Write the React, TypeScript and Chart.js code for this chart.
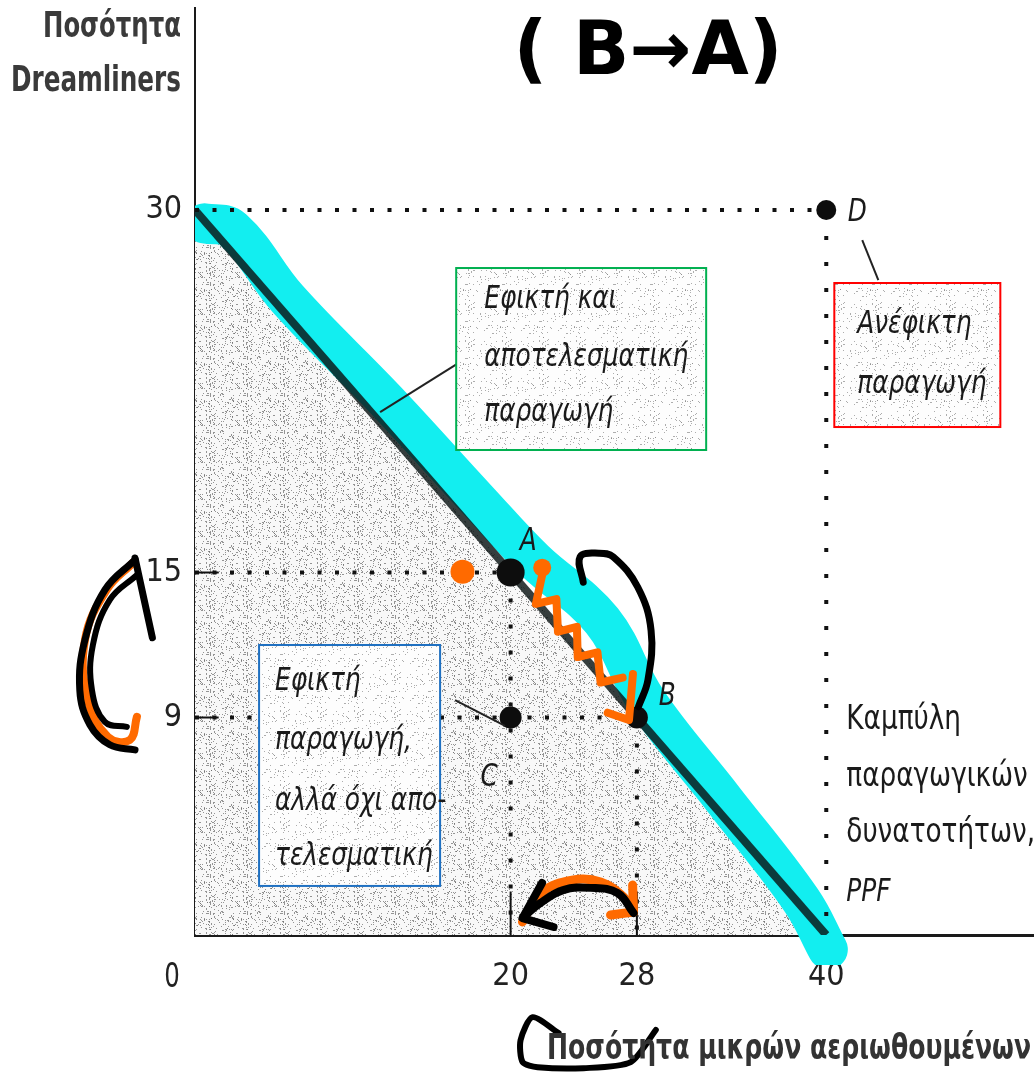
import React, { useEffect, useRef } from 'react';
import { Chart, registerables } from 'chart.js';

Chart.register(...registerables);

// ---------- data ----------
const ppfX = [0, 40];
const ppfY = [30, 0];

const pointNames = ['A', 'B', 'C', 'D'];
const pointX = [20, 28, 20, 40];
const pointY = [15, 9, 9, 30];
const pointSizes = [14, 11, 11, 10];

const xTickValues = [20, 28, 40];
const yTickValues = [9, 15, 30];

const xTitle = 'Ποσότητα μικρών αεριωθουμένων';
const yTitleLines = ['Ποσότητα', 'Dreamliners'];

// hand-drawn cyan highlighter along the PPF
const cyanX = [0.6, 2.4, 5.9, 12.06, 17.9, 21.5, 25.8, 28.6, 33.5, 38.4, 40.1];
const cyanY = [29.45, 29.2, 26.3, 22.15, 18.0, 15.5, 13.0, 9.7, 5.6, 1.45, -0.6];

// hand-drawn orange marks
const orangeDotX = [16.95, 22.0];
const orangeDotY = [15.03, 15.2];
const orangeZigX = [22.0, 21.6, 22.9, 23.0, 24.2, 24.25, 25.5, 25.7, 27.1];
const orangeZigY = [14.9, 13.7, 13.9, 12.55, 12.75, 11.5, 11.7, 10.45, 10.65];
const orangeArrowX = [27.75, 27.5, 26.15];
const orangeArrowY = [10.8, 8.9, 9.2];
const orangeLeftX = [-3.94, -5.59, -6.97, -6.79, -5.52, -4.13, -3.68];
const orangeLeftY = [15.4, 14.29, 12.22, 9.73, 8.2, 8.07, 9.03];
const orangeBottomX = [20.75, 21.9, 23.99, 25.7, 27.16, 27.79];
const orangeBottomY = [0.54, 1.74, 2.28, 2.19, 1.57, 0.95];
const orangeBottomHookX = [27.73, 27.79, 26.33];
const orangeBottomHookY = [2.07, 0.95, 0.83];

// hand-drawn black marks
const blackArcX = [24.6, 24.4, 25.6, 26.5, 28.05, 28.9, 28.7, 28.1];
const blackArcY = [14.6, 15.65, 15.8, 15.65, 14.4, 12.6, 10.55, 9.45];
const blackLeftHeadX = [-7.3, -3.8, -2.7];
const blackLeftHeadY = [14.5, 15.6, 12.3];
const blackLeftC1X = [-3.8, -5.7, -6.97, -7.3, -6.66, -5.4, -3.8];
const blackLeftC1Y = [15.53, 14.29, 12.22, 10.14, 8.7, 7.87, 7.66];
const blackLeftC2X = [-3.68, -5.4, -6.47, -6.53, -5.71, -4.32];
const blackLeftC2Y = [14.9, 13.87, 12.0, 10.14, 8.82, 8.61];
const blackBottomX = [27.79, 26.77, 25.05, 23.33, 21.87, 20.81];
const blackBottomY = [0.91, 1.74, 1.95, 1.86, 1.32, 0.75];
const blackBottomHeadX = [21.99, 20.75, 22.72];
const blackBottomHeadY = [2.15, 0.7, 0.33];
const blackTitleX = [23.04, 21.39, 20.63, 20.76, 21.71, 24.63, 27.61, 29.2];
const blackTitleY = [-4.06, -3.4, -4.35, -5.26, -5.47, -5.51, -5.26, -3.93];

// ---------- helpers ----------
const SANS = '"DejaVu Sans Condensed", "DejaVu Sans", sans-serif';
const pts = (xs: number[], ys: number[]) => xs.map((x, i) => ({ x, y: ys[i] }));

// paper-grain texture tile (deterministic scatter, purely decorative)
function makeStipple(bg: string, dot: string, count: number): CanvasPattern | string {
  const size = 37;
  const c = document.createElement('canvas');
  c.width = size;
  c.height = size;
  const g = c.getContext('2d');
  if (!g) return bg;
  g.fillStyle = bg;
  g.fillRect(0, 0, size, size);
  g.fillStyle = dot;
  let s = 12345;
  const next = () => {
    s = (s * 1103515245 + 12345) % 2147483648;
    return s / 2147483648;
  };
  for (let i = 0; i < count; i++) {
    const px = Math.floor(next() * size);
    const py = Math.floor(next() * size);
    g.fillRect(px, py, 1, 1);
  }
  const p = g.createPattern(c, 'repeat');
  return p || bg;
}

function stroke(xs: number[], ys: number[], color: string, width: number, tension: number, order: number) {
  return {
    data: pts(xs, ys),
    showLine: true,
    borderColor: color,
    borderWidth: width,
    pointRadius: 0,
    tension,
    fill: false,
    clip: false as any,
    borderCapStyle: 'round',
    borderJoinStyle: 'round',
    order,
  };
}

export default function App() {
  const ref = useRef<HTMLCanvasElement | null>(null);

  useEffect(() => {
    if (!ref.current) return;
    const areaPattern = makeStipple('#f8f8f8', 'rgba(105,105,105,0.7)', 190);
    const boxPattern = makeStipple('#fdfdfd', 'rgba(130,130,130,0.65)', 80);

    const iA = 0, iB = 1, iD = 3;
    const dotted = (xs: number[], ys: number[], dash: number[]) => ({
      data: pts(xs, ys),
      showLine: true,
      borderColor: '#111',
      borderWidth: 4,
      borderDash: dash,
      pointRadius: 0,
      fill: false,
      order: 8,
    });
    const solid = (xs: number[], ys: number[]) => ({
      data: pts(xs, ys),
      showLine: true,
      borderColor: '#111',
      borderWidth: 2,
      pointRadius: 0,
      fill: false,
      order: 8,
    });

    // draws text squeezed horizontally (the original uses a condensed face)
    const drawText = (
      ctx: any, s: string, px: number, py: number, font: string,
      opts: { align?: string; sx?: number; width?: number; color?: string } = {}
    ) => {
      ctx.save();
      ctx.font = font;
      ctx.textBaseline = 'middle';
      ctx.fillStyle = opts.color || '#1a1a1a';
      const w = ctx.measureText(s).width;
      const sx = opts.width ? opts.width / w : opts.sx || 1;
      const align = opts.align || 'left';
      const drawnW = w * sx;
      let left = px;
      if (align === 'right') left = px - drawnW;
      if (align === 'center') left = px - drawnW / 2;
      ctx.translate(left, py);
      ctx.scale(sx, 1);
      ctx.textAlign = 'left';
      ctx.fillText(s, 0, 0);
      ctx.restore();
    };

    const annotations = {
      id: 'annotations',
      afterDatasetsDraw(chart: any) {
        const { ctx } = chart;
        const xs = chart.scales.x;
        const ys = chart.scales.y;
        const X = (v: number) => xs.getPixelForValue(v);
        const Y = (v: number) => ys.getPixelForValue(v);
        ctx.save();

        // leader lines
        ctx.strokeStyle = '#222';
        ctx.lineWidth = 2;
        const leader = (x1: number, y1: number, x2: number, y2: number) => {
          ctx.beginPath();
          ctx.moveTo(X(x1), Y(y1));
          ctx.lineTo(X(x2), Y(y2));
          ctx.stroke();
        };
        leader(11.73, 21.64, 16.99, 23.79);
        leader(42.28, 28.75, 43.3, 27.1);
        leader(16.48, 9.72, 19.65, 8.65);

        // boxes
        const box = (x1: number, y1: number, x2: number, y2: number, color: string) => {
          const l = X(x1), t = Y(y1), r = X(x2), b = Y(y2);
          ctx.fillStyle = boxPattern;
          ctx.fillRect(l, t, r - l, b - t);
          ctx.strokeStyle = color;
          ctx.lineWidth = 2;
          ctx.strokeRect(l, t, r - l, b - t);
        };
        box(16.55, 27.6, 32.39, 20.07, '#00b050');
        box(40.51, 26.98, 51.03, 21.02, '#ff0000');
        box(4.06, 12.0, 15.53, 2.03, '#1f70c1');

        const italic = `italic 32px ${SANS}`;
        const it = (s: string, x: number, y: number) => drawText(ctx, s, X(x), Y(y), italic, { sx: 0.86 });
        it('Εφικτή και', 18.33, 26.27);
        it('αποτελεσματική', 18.33, 23.91);
        it('παραγωγή', 18.33, 21.6);
        it('Ανέφικτη', 41.97, 25.24);
        it('παραγωγή', 41.97, 22.76);
        it('Εφικτή', 5.07, 10.47);
        it('παραγωγή,', 5.07, 8.03);
        it('αλλά όχι απο-', 5.07, 5.5);
        it('τελεσματική', 5.07, 3.23);
        const up = (s: string, x: number, y: number) =>
          drawText(ctx, s, X(x), Y(y), `34px ${SANS}`, { sx: 0.86 });
        up('Καμπύλη', 41.27, 8.9);
        up('παραγωγικών', 41.27, 6.54);
        up('δυνατοτήτων,', 41.27, 4.22);
        it('PPF', 41.27, 1.74);

        // point labels
        const lblPos = [
          [21.11, 16.26],
          [29.92, 9.85],
          [18.64, 6.5],
          [41.97, 29.87],
        ];
        pointNames.forEach((n, i) =>
          drawText(ctx, n, X(lblPos[i][0]), Y(lblPos[i][1]), italic, { sx: 0.86, align: 'center' })
        );
        ctx.restore();
      },
      afterDraw(chart: any) {
        const { ctx } = chart;
        const xs = chart.scales.x;
        const ys = chart.scales.y;
        // y-axis title (horizontal, top-left)
        const bold = `bold 36px ${SANS}`;
        drawText(ctx, yTitleLines[0], ys.right - 14, 28, bold, { align: 'right', width: 138, color: '#3a3a3a' });
        drawText(ctx, yTitleLines[1], ys.right - 14, 82, bold, { align: 'right', width: 170, color: '#3a3a3a' });
        // x-axis title (bottom-right)
        drawText(ctx, xTitle, xs.right - 2, 1050, bold, { align: 'right', width: 484, color: '#333' });
        // origin label
        drawText(ctx, '0', xs.getPixelForValue(0) - 23, xs.top + 43, `34px ${SANS}`, { align: 'center', sx: 0.8, color: '#222' });
        // handwritten note
        ctx.save();
        ctx.font = 'bold 74px "DejaVu Sans", sans-serif';
        ctx.fillStyle = '#000';
        ctx.textAlign = 'center';
        ctx.textBaseline = 'middle';
        ctx.fillText('( B→A)', 648, 55);
        ctx.restore();
      },
    };

    const chart = new Chart(ref.current, {
      type: 'line',
      data: {
        datasets: [
          {
            data: pts(ppfX, ppfY),
            borderColor: 'rgba(10,20,20,0.82)',
            borderWidth: 8,
            backgroundColor: areaPattern as any,
            fill: 'origin',
            pointRadius: 0,
            order: 5,
          },
          {
            ...stroke(cyanX, cyanY, '#12eef0', 40, 0.4, 20),
            clip: { left: 0, top: 2, right: 30, bottom: 30 },
          } as any,
          dotted([0, pointX[iD]], [pointY[iD], pointY[iD]], [4, 13.5]),
          dotted([pointX[iD], pointX[iD]], [pointY[iD], 0], [4, 22]),
          dotted([0, pointX[iA]], [pointY[iA], pointY[iA]], [4, 13.5]),
          dotted([pointX[iA], pointX[iA]], [pointY[iA], 0], [4, 22]),
          dotted([0, pointX[iB]], [pointY[iB], pointY[iB]], [4, 13.5]),
          dotted([pointX[iB], pointX[iB]], [pointY[iB], 0], [4, 22]),
          solid([0, 1.5], [pointY[iA], pointY[iA]]),
          solid([0, 1.5], [pointY[iB], pointY[iB]]),
          solid([pointX[iA], pointX[iA]], [0, 1.8]),
          solid([pointX[iB], pointX[iB]], [0, 1.8]),
          {
            data: pts(pointX, pointY),
            showLine: false,
            pointRadius: pointSizes,
            pointBackgroundColor: '#0d0d0d',
            pointBorderColor: '#0d0d0d',
            pointBorderWidth: 0,
            order: 3,
          },
          {
            data: pts(orangeDotX, orangeDotY),
            showLine: false,
            pointRadius: [12, 9],
            pointBackgroundColor: '#ff6a00',
            pointBorderWidth: 0,
            order: 2,
          },
          stroke(orangeZigX, orangeZigY, '#ff6a00', 8, 0, 2) as any,
          stroke(orangeArrowX, orangeArrowY, '#ff6a00', 8, 0, 2) as any,
          stroke(orangeLeftX, orangeLeftY, '#ff6a00', 8, 0.4, 2) as any,
          stroke(orangeBottomX, orangeBottomY, '#ff6a00', 9, 0.4, 2) as any,
          stroke(orangeBottomHookX, orangeBottomHookY, '#ff6a00', 9, 0, 2) as any,
          stroke(blackArcX, blackArcY, '#000', 7, 0.4, 1) as any,
          stroke(blackLeftHeadX, blackLeftHeadY, '#000', 7, 0, 1) as any,
          stroke(blackLeftC1X, blackLeftC1Y, '#000', 7, 0.4, 1) as any,
          stroke(blackLeftC2X, blackLeftC2Y, '#000', 6, 0.4, 1) as any,
          stroke(blackBottomX, blackBottomY, '#000', 8, 0.4, 1) as any,
          stroke(blackBottomHeadX, blackBottomHeadY, '#000', 8, 0, 1) as any,
          stroke(blackTitleX, blackTitleY, '#000', 6, 0.25, 1) as any,
        ],
      },
      options: {
        animation: false,
        responsive: false,
        maintainAspectRatio: false,
        layout: { autoPadding: false, padding: { top: 8, right: 2, left: 0, bottom: 0 } },
        plugins: {
          legend: { display: false },
          tooltip: { enabled: false },
          filler: { drawTime: 'beforeDatasetsDraw' } as any,
        },
        scales: {
          x: {
            type: 'linear',
            min: 0,
            max: 53.1,
            afterFit: (s: any) => {
              s.height = 138;
              s.paddingLeft = 0;
              s.paddingRight = 0;
            },
            afterBuildTicks: (s: any) => {
              s.ticks = xTickValues.map((v) => ({ value: v }));
            },
            grid: { display: false, drawTicks: false },
            border: { display: true, color: '#1a1a1a', width: 3 },
            ticks: {
              font: { family: SANS, size: 32 },
              color: '#222',
              padding: 22,
              maxRotation: 0,
              autoSkip: false,
            },
          },
          y: {
            type: 'linear',
            min: 0,
            max: 38.36,
            afterFit: (s: any) => {
              s.width = 195;
              s.paddingTop = 0;
              s.paddingBottom = 0;
            },
            afterBuildTicks: (s: any) => {
              s.ticks = yTickValues.map((v) => ({ value: v }));
            },
            grid: { display: false, drawTicks: false },
            border: { display: true, color: '#1a1a1a', width: 2 },
            ticks: {
              font: { family: SANS, size: 32 },
              color: '#222',
              padding: 13,
              autoSkip: false,
            },
          },
        },
      } as any,
      plugins: [annotations as any],
    });
    return () => chart.destroy();
  }, []);

  return (
    <div style={{ position: 'absolute', left: 0, top: 0, width: 1035, height: 1073, background: '#fff' }}>
      <canvas ref={ref} width={1035} height={1073} style={{ display: 'block' }} />
    </div>
  );
}
